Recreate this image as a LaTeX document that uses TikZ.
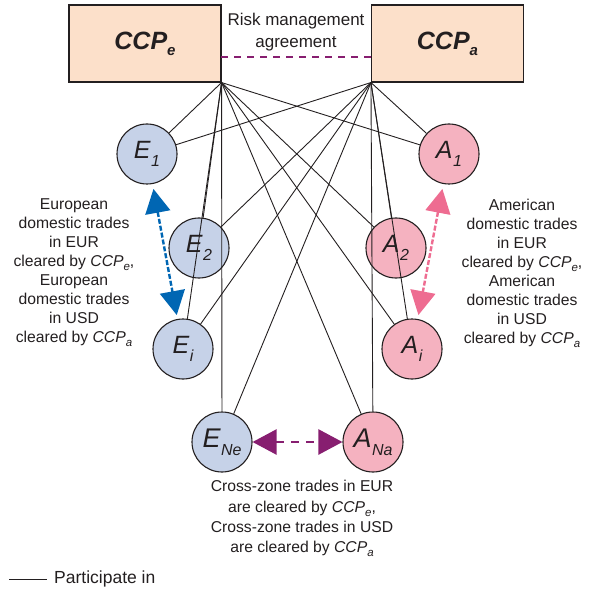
\documentclass[tikz,border=0pt]{standalone}
\usepackage{fontspec}
\setmainfont{Liberation Sans}
\usetikzlibrary{arrows.meta}
\definecolor{txt}{RGB}{35,31,32}
\definecolor{boxfill}{RGB}{252,224,202}
\definecolor{efill}{RGB}{198,210,232}
\definecolor{afill}{RGB}{245,178,192}
\definecolor{eblue}{RGB}{0,102,179}
\definecolor{apink}{RGB}{238,108,145}
\definecolor{purp}{RGB}{135,30,112}
\newcommand{\plab}[4]{\fontsize{#3}{#3}\selectfont\itshape #1\kern0.5pt\raisebox{-#4pt}{\fontsize{16}{16}\selectfont #2}}
\newcommand{\ccplab}[1]{\fontsize{25}{25}\selectfont\bfseries\itshape CCP\raisebox{-6pt}{\fontsize{15}{15}\selectfont #1}}
\newcommand{\ccpin}[1]{\textit{CCP}\raisebox{-4pt}{\fontsize{11.5}{11.5}\selectfont\itshape #1}}
\begin{document}
\begin{tikzpicture}[x=1pt,y=-1pt,
  every node/.style={text=txt},
  ccpbox/.style={draw=txt, line width=1.1pt, fill=boxfill, minimum width=152pt, minimum height=77pt, inner sep=0pt},
  party/.style={circle, draw=txt, line width=1.1pt, minimum size=60pt, inner sep=0pt},
  eparty/.style={party, fill=efill},
  aparty/.style={party, fill=afill},
  conn/.style={draw=txt, line width=0.9pt},
  note/.style={align=center, font=\fontsize{15.7}{19}\selectfont, inner sep=0pt, anchor=north},
  dbl/.style={line width=2.4pt, {Triangle[length=24pt,width=25pt]}-{Triangle[length=24pt,width=25pt]}},
]
\useasboundingbox (0,0) rectangle (588,593);

% CCP boxes
\node[ccpbox] (CCPe) at (145,43.5) {\ccplab{e}};
\node[ccpbox] (CCPa) at (447.5,43.5) {\ccplab{a}};
\coordinate (ce) at (CCPe.south east);
\coordinate (ca) at (CCPa.south west);

% risk management agreement
\node[align=center, font=\fontsize{17}{22}\selectfont, inner sep=0pt, anchor=north] (rma) at (296,12.8) {Risk management\\agreement};
\coordinate (rm1) at (221,57);
\coordinate (rm2) at (372,57);
\draw[purp, line width=2.2pt, dash pattern=on 7pt off 6pt] (rm1) -- (rm2);

% participants
\node[eparty] (E1) at (147,154) {\plab{E}{1}{25}{8}};
\node[eparty] (E2) at (199,248) {\plab{E}{2}{25}{8}};
\node[eparty] (Ei) at (183,349) {\plab{E}{i}{25}{8}};
\node[eparty] (ENe) at (222,442) {\plab{E}{Ne}{27}{8}};
\node[aparty] (A1) at (449,154) {\plab{A}{1}{25}{8}};
\node[aparty] (A2) at (396,248) {\plab{A}{2}{25}{8}};
\node[aparty] (Ai) at (412,349) {\plab{A}{i}{25}{8}};
\node[aparty] (ANa) at (373,442) {\plab{A}{Na}{27}{8}};

% participation links
\foreach \n in {E1,E2,Ei,ENe,A1,A2,Ai,ANa}{
  \draw[conn] (ce) -- (\n);
  \draw[conn] (ca) -- (\n);
}

% trade arrows
\draw[dbl, eblue, dash pattern=on 5pt off 2pt, shorten <=5pt, shorten >=4pt] (E1) -- (Ei);
\draw[dbl, apink, dash pattern=on 5pt off 2pt, shorten <=5pt, shorten >=4pt] (A1) -- (Ai);
\draw[dbl, purp, dash pattern=on 8pt off 7pt] (ENe) -- (ANa);

% notes
\node[note] (ln) at (74,198.8) {European\\domestic trades\\in EUR\\cleared by \ccpin{e},\\European\\domestic trades\\in USD\\cleared by \ccpin{a}};
\node[note] (rn) at (522,198.8) {American\\domestic trades\\in EUR\\cleared by \ccpin{e},\\American\\domestic trades\\in USD\\cleared by \ccpin{a}};
\node[note, font=\fontsize{15.7}{20.3}\selectfont] (bn) at (302,480.3) {Cross-zone trades in EUR\\are cleared by \ccpin{e},\\Cross-zone trades in USD\\are cleared by \ccpin{a}};

% legend
\coordinate (lg1) at (9,579);
\coordinate (lg2) at (47,579);
\draw[conn] (lg1) -- (lg2);
\node[anchor=west, inner sep=0pt, font=\fontsize{17.5}{17.5}\selectfont] (leg) at (54,579) {Participate in};
\end{tikzpicture}
\end{document}
